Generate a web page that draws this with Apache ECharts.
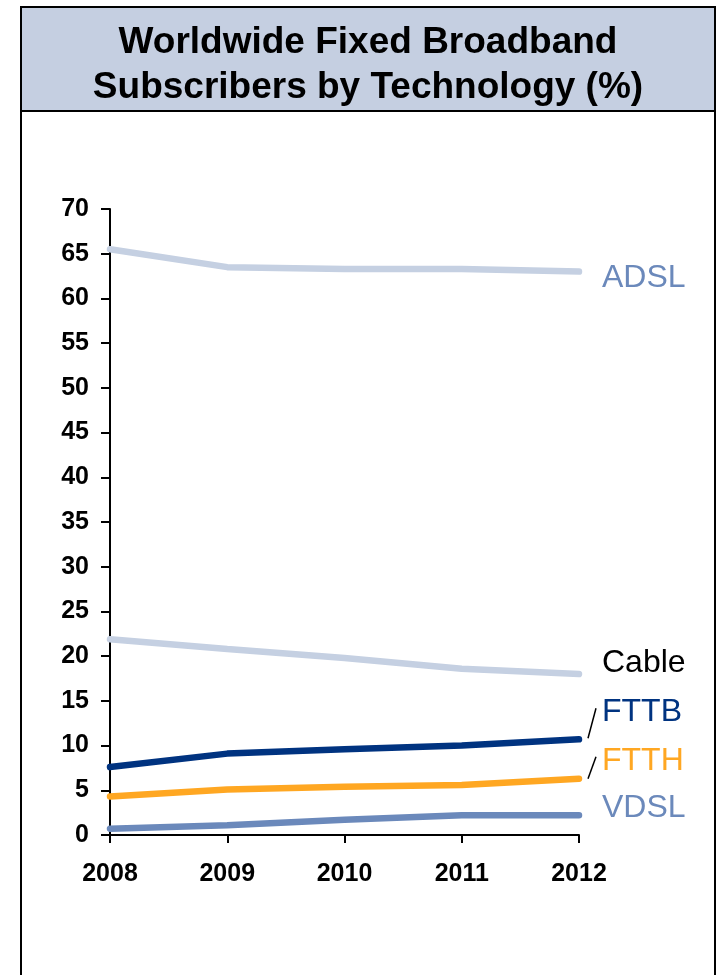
<!DOCTYPE html>
<html>
<head>
<meta charset="utf-8">
<script src="https://cdn.jsdelivr.net/npm/echarts@6/dist/echarts.min.js"></script>
<style>
  html, body { margin: 0; padding: 0; background: #fff; }
  #chart { width: 717px; height: 975px; }
</style>
</head>
<body>
<div id="chart"></div>
<script>
const years = ['2008', '2009', '2010', '2011', '2012'];
const adsl = [65.5, 63.5, 63.3, 63.3, 63.0];
const cable = [21.9, 20.8, 19.8, 18.6, 18.0];
const fttb = [7.6, 9.1, 9.6, 10.0, 10.7];
const ftth = [4.3, 5.1, 5.4, 5.6, 6.3];
const vdsl = [0.7, 1.1, 1.7, 2.2, 2.2];

const font = 'Arial, "Liberation Sans", sans-serif';

const makeSeries = (name, data, color, labelColor, offset) => ({
  name,
  type: 'line',
  data,
  symbol: 'none',
  smooth: false,
  lineStyle: { color, width: 6.5, cap: 'round' },
  endLabel: {
    show: true,
    formatter: name,
    color: labelColor,
    fontFamily: font,
    fontSize: 32,
    distance: 0,
    offset,
  },
  z: 3,
});

const chart = echarts.init(document.getElementById('chart'));

const option = {
  animation: false,
  backgroundColor: '#fff',
  graphic: [
    {
      type: 'rect',
      shape: { x: 21, y: 7, width: 694, height: 1000 },
      style: { fill: '#fff', stroke: '#000', lineWidth: 2 },
      z: -10,
    },
    {
      type: 'rect',
      shape: { x: 21, y: 7, width: 694, height: 104 },
      style: { fill: '#c5cfe1', stroke: '#000', lineWidth: 2 },
      z: -9,
    },
    {
      type: 'text',
      x: 368,
      y: 20,
      style: {
        text: 'Worldwide Fixed Broadband\nSubscribers by Technology (%)',
        fill: '#000',
        font: 'bold 37px ' + font,
        align: 'center',
        lineHeight: 45,
      },
      z: 5,
    },
  ],
  grid: { left: 110, right: 138, top: 209, bottom: 140, containLabel: false },
  xAxis: {
    type: 'category',
    data: years,
    boundaryGap: false,
    axisLine: { lineStyle: { color: '#000', width: 2 } },
    axisTick: { show: true, length: 8, lineStyle: { color: '#000', width: 2 } },
    axisLabel: { color: '#000', fontWeight: 'bold', fontSize: 25, fontFamily: font, margin: 27 },
    splitLine: { show: false },
  },
  yAxis: {
    type: 'value',
    min: 0,
    max: 70,
    interval: 5,
    axisLine: { show: true, lineStyle: { color: '#000', width: 2 } },
    axisTick: { show: true, length: 9, lineStyle: { color: '#000', width: 2 } },
    axisLabel: { color: '#000', fontWeight: 'bold', fontSize: 25, fontFamily: font, margin: 21 },
    splitLine: { show: false },
  },
  series: [
    makeSeries('ADSL', adsl, '#c5d0e2', '#6b89bb', [23, 7]),
    makeSeries('Cable', cable, '#c5d0e2', '#000', [23, -11]),
    makeSeries('FTTB', fttb, '#003380', '#003380', [23, -27]),
    makeSeries('FTTH', ftth, '#ffa722', '#ffa722', [23, -17]),
    makeSeries('VDSL', vdsl, '#6b89bb', '#6b89bb', [23, -7]),
  ],
};

chart.setOption(option);

// small leader lines next to FTTB and FTTH labels
const last = years.length - 1;
const leader = (value, dy1, dy2) => {
  const [px, py] = chart.convertToPixel({ seriesIndex: 0 }, [last, value]);
  return {
    type: 'line',
    shape: { x1: px + 9, y1: py + dy1, x2: px + 17, y2: py + dy2 },
    style: { stroke: '#000', lineWidth: 1.5 },
    z: 5,
  };
};
option.graphic.push(leader(fttb[last], -1, -31), leader(ftth[last], 0, -22));
chart.setOption({ graphic: option.graphic });
</script>
</body>
</html>
